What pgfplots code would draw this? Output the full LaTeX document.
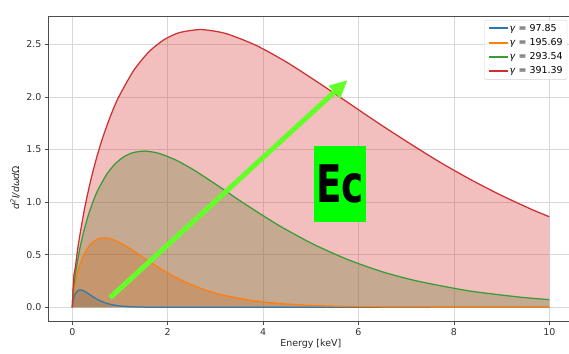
\documentclass[border=0pt]{standalone}
\usepackage{fontspec}
\setmainfont{DejaVu Sans}
\usepackage{pgfplots}
\pgfplotsset{compat=1.18}
\usetikzlibrary{arrows.meta}
\definecolor{tblue}{HTML}{1F77B4}
\definecolor{torange}{HTML}{FF7F0E}
\definecolor{tgreen}{HTML}{2CA02C}
\definecolor{tred}{HTML}{D62728}
\definecolor{limeA}{RGB}{100,255,40}
\definecolor{ecgreen}{RGB}{0,255,0}

\pgfplotstableread{
x y
0 0
0.002 0.019
0.004 0.0239
0.008 0.0376
0.016 0.0587
0.024 0.0753
0.032 0.0892
0.040 0.1011
0.050 0.1137
0.060 0.1243
0.080 0.1406
0.100 0.1518
0.120 0.1590
0.140 0.1632
0.168 0.165
0.200 0.1627
0.241 0.1557
0.281 0.1457
0.321 0.1340
0.401 0.1094
0.481 0.0864
0.561 0.0667
0.641 0.0505
0.722 0.0376
0.802 0.0279
0.922 0.0174
1.042 0.0107
1.203 0.0055
1.403 0.0024
1.604 0.0010
2.004 0.0002
2.405 0.00003
4 0
10 0
}\blue

\pgfplotstableread{
x y
0 0
0.008 0.076
0.016 0.0956
0.032 0.1505
0.064 0.2348
0.096 0.3014
0.128 0.357
0.160 0.4045
0.200 0.455
0.241 0.497
0.321 0.562
0.401 0.607
0.481 0.636
0.561 0.653
0.673 0.660
0.802 0.651
0.962 0.623
1.122 0.583
1.283 0.536
1.443 0.487
1.604 0.438
1.924 0.346
2.245 0.267
2.566 0.202
2.886 0.150
3.207 0.1115
3.688 0.0697
4.169 0.0430
4.811 0.0221
5.612 0.0094
6.414 0.0040
8.018 0.0007
9.621 0.0001
10 0.0001
}\orange

\pgfplotstableread{
x y
0 0
0.018 0.171
0.036 0.215
0.072 0.339
0.144 0.528
0.216 0.678
0.289 0.803
0.361 0.910
0.451 1.024
0.541 1.119
0.722 1.265
0.902 1.366
1.082 1.431
1.263 1.469
1.515 1.485
1.804 1.465
2.165 1.401
2.526 1.311
2.886 1.206
3.247 1.096
3.608 0.985
4.330 0.778
5.051 0.600
5.773 0.454
6.494 0.338
7.216 0.251
8.298 0.157
9.381 0.0967
10 0.0727
}\green

\pgfplotstableread{
x y
0 0
0.032 0.304
0.064 0.382
0.128 0.602
0.257 0.939
0.385 1.205
0.513 1.428
0.641 1.618
0.802 1.820
0.962 1.990
1.283 2.249
1.604 2.428
1.924 2.544
2.245 2.611
2.694 2.640
3.207 2.604
3.848 2.491
4.490 2.331
5.131 2.144
5.773 1.948
6.414 1.751
7.055 1.563
7.697 1.382
8.338 1.217
8.980 1.067
9.621 0.932
10 0.861
}\red

\begin{document}
\begin{tikzpicture}
\begin{axis}[
  x=47.7bp, y=105.2bp,
  xmin=-0.5, xmax=10.5, ymin=-0.132, ymax=2.77,
  xtick={0,2,4,6,8,10}, ytick={0,0.5,1,1.5,2,2.5},
  yticklabel style={/pgf/number format/.cd, fixed, fixed zerofill, precision=1},
  /pgf/number format/assume math mode=true,
  tick align=outside, tick pos=left, major tick length=3.5bp,
  every tick/.style={black!70, line width=0.6bp},
  axis line style={black!70, line width=0.6bp},
  grid=major, major grid style={gray!30, line width=0.6bp},
  tick label style={font=\fontsize{9.5}{11}\selectfont, text=black!80},
  xlabel={Energy [keV]},
  xlabel style={at={(axis description cs:0.5,-0.076)}, anchor=center, font=\fontsize{9.5}{11}\selectfont, text=black!85},
  ylabel={{\itshape d\textsuperscript{2}I/dωd}Ω},
  ylabel style={at={(axis description cs:-0.0635,0.437)}, anchor=center, rotate=0, font=\fontsize{9.5}{11}\selectfont, text=black!85},
  legend cell align=left,
  legend style={at={(axis description cs:0.9886,0.987)}, anchor=north east,
    draw=gray!35, rounded corners=2bp, fill=white, fill opacity=0.85, text opacity=1,
    font=\fontsize{9.5}{11}\selectfont, inner xsep=3bp, inner ysep=2.5bp,
    nodes={inner sep=1.2bp, text height=7.3bp, text depth=2bp}, row sep=2.6bp},
  legend image code/.code={\draw[#1, line width=2bp, opacity=1] (0bp,0bp) -- (19bp,0bp);},
  every axis plot/.append style={smooth, tension=0.4},
]
\addplot[draw=none, fill=tblue, fill opacity=0.3, forget plot] table {\blue} \closedcycle;
\addplot[draw=none, fill=torange, fill opacity=0.3, forget plot] table {\orange} \closedcycle;
\addplot[draw=none, fill=tgreen, fill opacity=0.3, forget plot] table {\green} \closedcycle;
\addplot[draw=none, fill=tred, fill opacity=0.3, forget plot] table {\red} \closedcycle;

\addplot[tblue!85!gray, line width=1.25bp] table {\blue};
\addlegendentry{\textit{γ} = 97.85}
\addplot[torange, line width=1.25bp] table {\orange};
\addlegendentry{\textit{γ} = 195.69}
\addplot[tgreen!90!gray, line width=1.25bp] table {\green};
\addlegendentry{\textit{γ} = 293.54}
\addplot[tred!90!gray, line width=1.25bp] table {\red};
\addlegendentry{\textit{γ} = 391.39}

\draw[limeA, line width=5bp, -{Triangle[length=18bp, width=16bp]}] (axis cs:0.79,0.09) -- (axis cs:5.77,2.16);
\node[fill=ecgreen, minimum width=52bp, minimum height=76bp, inner sep=0pt, font=\fontsize{52}{52}\selectfont\bfseries] at (axis cs:5.61,1.172) {\scalebox{0.72}[1]{Ec}};
\node[anchor=west, font=\fontsize{9.5}{11}\selectfont, text=black!85, inner sep=0pt] at (axis description cs:-0.006,1.0196) {1e\(-\)32};
\coordinate (bbsw) at (axis cs:-1.516,-0.444);
\coordinate (bbne) at (axis cs:10.413,2.921);
\end{axis}
\pgfresetboundingbox
\path[use as bounding box] (bbsw) rectangle (bbne);
\end{tikzpicture}
\end{document}
